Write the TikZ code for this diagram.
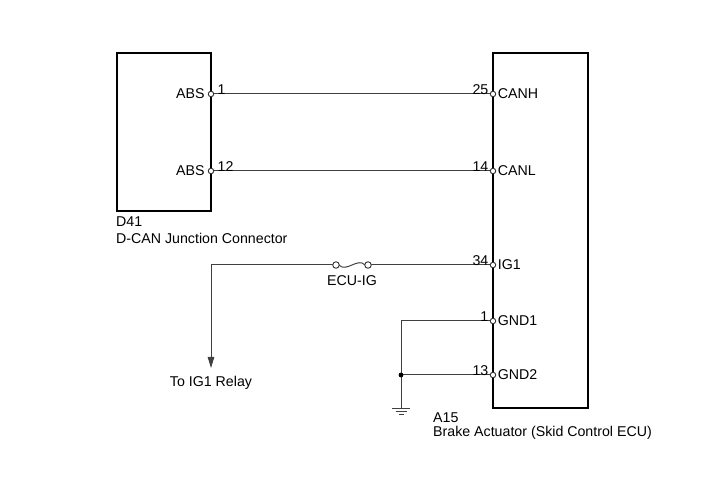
\documentclass[tikz,border=0pt]{standalone}
\usepackage{fontspec}
\setmainfont{Liberation Sans}
\usepackage{tikz}
\usetikzlibrary{arrows.meta,positioning}

\begin{document}
\begin{tikzpicture}[x=1pt,y=-1pt,thin,
    box/.style={draw=black,line width=1.6pt},
    wire/.style={draw=black!75,line width=1pt},
    pin/.style={circle,draw=black!80,fill=white,line width=0.9pt,inner sep=0pt,minimum size=5.5pt},
    txt/.style={font=\fontsize{14.2}{16}\selectfont,inner sep=1pt},
    num/.style={txt,anchor=south,inner sep=1.5pt}]
    \useasboundingbox (0,0) rectangle (713,481);

    % The connectors
    \draw[box] (117,53) rectangle (211,211);
    \draw[box] (493,53) rectangle (588,408);
    \node[txt,anchor=west] at (115,222) (d41) {D41};
    \node[txt,anchor=west] at (115,238) (d41name) {D-CAN Junction Connector};
    \node[txt,anchor=west] at (432,418) (a15) {A15};
    \node[txt,anchor=west] at (432,433) (a15name) {Brake Actuator (Skid Control ECU)};

    % Wires
    \coordinate (relay) at (211,265);
    \coordinate (relayend) at (211,368);
    \coordinate (fuseL) at (336,265);
    \coordinate (fuseR) at (368,265);
    \coordinate (gndtop) at (401,321);
    \coordinate (gndjoint) at (401,375);
    \coordinate (gndbot) at (401,408);

    \path[wire]
    (211,94) edge (493,94)
    (211,171) edge (493,171)
    (relay) edge (fuseL)
    (fuseR) edge (493,265)
    (gndtop) edge (493,321)
    (gndjoint) edge (493,375)
    (gndtop) edge (gndbot)
    ;
    \draw[wire,-{Stealth[length=11pt,width=6.5pt,inset=0pt]}] (relay) -- (relayend);
    \draw[wire] ([xshift=3pt]fuseL) .. controls (346,273) and (358,257) .. ([xshift=-3pt]fuseR);
    \fill[black] (gndjoint) circle (2.4pt);

    % Ground
    \draw[wire] (392,408) -- (410,408);
    \draw[wire] (395.5,411.2) -- (406.5,411.2);
    \draw[wire] (398.5,414.4) -- (403.5,414.4);

    % Pins
    \node[pin] at (211,94) (abs1) {};
    \node[pin] at (211,171) (abs12) {};
    \node[pin] at (493,94) (canh) {};
    \node[pin] at (493,171) (canl) {};
    \node[pin] at (493,265) (ig1) {};
    \node[pin] at (493,321) (gnd1) {};
    \node[pin] at (493,375) (gnd2) {};
    \node[pin,minimum size=6.5pt] at (fuseL) (fuse1) {};
    \node[pin,minimum size=6.5pt] at (fuseR) (fuse2) {};

    % Labels
    \node[txt,left=2pt of abs1] {ABS};
    \node[txt,left=2pt of abs12] {ABS};
    \node[txt,right=0.5pt of canh] {CANH};
    \node[txt,right=0.5pt of canl] {CANL};
    \node[txt,right=0.5pt of ig1] {IG1};
    \node[txt,right=0.5pt of gnd1] {GND1};
    \node[txt,right=0.5pt of gnd2] {GND2};
    \node[num,anchor=south west] at (216,96) {1};
    \node[num,anchor=south west] at (216,173) {12};
    \node[num,anchor=south east] at (490,96) {25};
    \node[num,anchor=south east] at (490,173) {14};
    \node[num,anchor=south east] at (490,267) {34};
    \node[num,anchor=south east] at (490,323) {1};
    \node[num,anchor=south east] at (490,377) {13};
    \node[txt] at (352,281) (fusename) {ECU-IG};
    \node[txt] at (211,383) (relayname) {To IG1 Relay};

\end{tikzpicture}
\end{document}
